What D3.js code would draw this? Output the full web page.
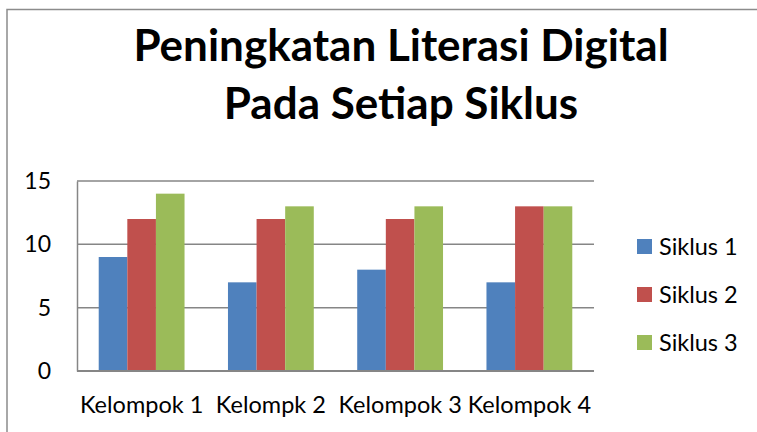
<!DOCTYPE html>
<html>
<head>
<meta charset="utf-8">
<script src="https://cdn.jsdelivr.net/npm/d3@7"></script>
<style>
  body { margin: 0; background: #fff; }
  svg text { font-family: Lato, "Open Sans", sans-serif; fill: #000; }
</style>
</head>
<body>
<div id="chart"></div>
<script>
// chart values
const categories = ['Kelompok 1', 'Kelompk 2', 'Kelompok 3', 'Kelompok 4']
const seriesNames = ['Siklus 1', 'Siklus 2', 'Siklus 3']
const siklus1 = [9, 7, 8, 7]
const siklus2 = [12, 12, 12, 13]
const siklus3 = [14, 13, 13, 13]
const yTicks = [0, 5, 10, 15]
const titleLines = ['Peningkatan Literasi Digital', 'Pada Setiap Siklus']

const colors = ['#4F81BD', '#C0504D', '#9BBB59']
const seriesValues = [siklus1, siklus2, siklus3]

const width = 757,
  height = 432

const plot = { left: 77, right: 594, top: 181, bottom: 371 }

const svg = d3.select('#chart')
  .append('svg')
  .attr('width', width)
  .attr('height', height)

// outer frame (only top and left visible)
svg.append('path')
  .attr('d', `M7,${height} V9.5 H${width}`)
  .attr('fill', 'none')
  .attr('stroke', '#8c8c8c')
  .attr('stroke-width', 1.5)

// title
svg.append('g')
  .selectAll('text')
  .data(titleLines)
  .enter()
  .append('text')
  .attr('x', 401)
  .attr('y', (d, i) => 61 + i * 58)
  .attr('text-anchor', 'middle')
  .style('font-weight', 'bold')
  .style('font-size', '44px')
  .text(d => d)

const xScale = d3.scaleBand()
  .domain(categories)
  .range([plot.left, plot.right])
  .paddingInner(0.336)
  .paddingOuter(0.168)

const xSub = d3.scaleBand()
  .domain(seriesNames)
  .range([0, xScale.bandwidth()])

const yScale = d3.scaleLinear()
  .domain([0, 15])
  .range([plot.bottom, plot.top])

// gridlines
svg.append('g')
  .selectAll('line')
  .data(yTicks)
  .enter()
  .append('line')
  .attr('x1', plot.left)
  .attr('x2', plot.right)
  .attr('y1', d => yScale(d))
  .attr('y2', d => yScale(d))
  .attr('stroke', '#868686')
  .attr('stroke-width', 1.5)

// y axis
const yAxis = d3.axisLeft(yScale)
  .tickValues(yTicks)
  .tickSize(0)
  .tickPadding(26)

const yG = svg.append('g')
  .attr('transform', `translate(${plot.left},0)`)
  .call(yAxis)
yG.select('.domain').attr('stroke', '#868686').attr('stroke-width', 1.5)
yG.selectAll('text')
  .style('font-size', '23px')
  .style('font-family', 'Lato, sans-serif')
  .attr('fill', '#000')

// bars
const groups = svg.append('g')
  .selectAll('g')
  .data(categories)
  .enter()
  .append('g')
  .attr('transform', d => `translate(${xScale(d)},0)`)

groups.selectAll('rect')
  .data((d, i) => seriesNames.map((s, j) => ({ s: s, v: seriesValues[j][i], c: colors[j] })))
  .enter()
  .append('rect')
  .attr('x', d => xSub(d.s))
  .attr('y', d => yScale(d.v))
  .attr('width', xSub.bandwidth())
  .attr('height', d => yScale(0) - yScale(d.v))
  .attr('fill', d => d.c)

// baseline on top of bars
svg.append('line')
  .attr('x1', plot.left)
  .attr('x2', plot.right)
  .attr('y1', yScale(0))
  .attr('y2', yScale(0))
  .attr('stroke', '#868686')
  .attr('stroke-width', 2)

// x axis labels
const xAxis = d3.axisBottom(xScale)
  .tickSize(0)
  .tickPadding(25)

const xG = svg.append('g')
  .attr('transform', `translate(0,${plot.bottom})`)
  .call(xAxis)
xG.select('.domain').remove()
xG.selectAll('text')
  .style('font-size', '23.5px')
  .style('font-family', 'Lato, sans-serif')
  .attr('fill', '#000')

// legend
const legend = svg.append('g')
  .selectAll('g')
  .data(seriesNames)
  .enter()
  .append('g')
  .attr('transform', (d, i) => `translate(637,${239 + i * 48})`)

legend.append('rect')
  .attr('width', 15)
  .attr('height', 15)
  .attr('fill', (d, i) => colors[i])

legend.append('text')
  .attr('x', 22)
  .attr('y', 16)
  .style('font-size', '23.5px')
  .text(d => d)
</script>
</body>
</html>
